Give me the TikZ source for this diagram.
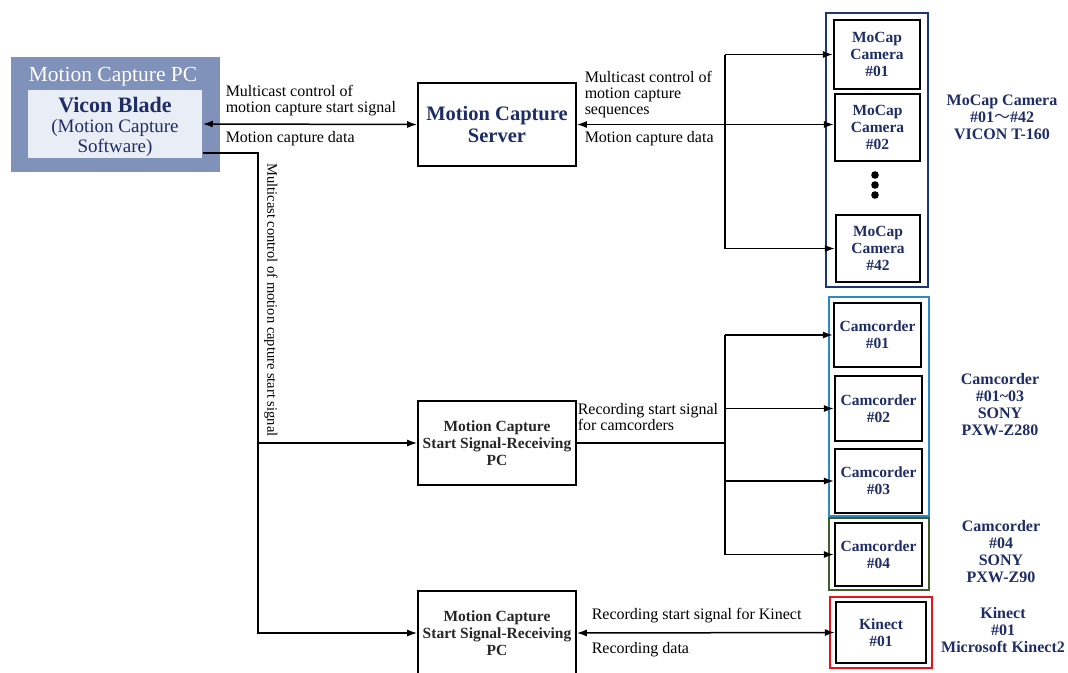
\documentclass[tikz,border=0pt]{standalone}
\usepackage{fontspec}
\setmainfont{Liberation Serif}
\newfontfamily\tnr{Liberation Serif}
\newfontfamily\cjk{Noto Sans CJK SC}
\usetikzlibrary{arrows.meta}
\definecolor{pcblue}{HTML}{8091BA}
\definecolor{innerfill}{HTML}{E9EDF5}
\definecolor{navytext}{HTML}{1F2D66}
\definecolor{grpnavy}{HTML}{1C3575}
\definecolor{grpblue}{HTML}{2B88CC}
\definecolor{grpgreen}{HTML}{3F5E2A}
\definecolor{grpred}{HTML}{E8141C}
\newcommand{\fsz}[2]{\fontsize{#1}{#2}\selectfont}
\begin{document}
\begin{tikzpicture}[x=1pt,y=-1pt,
  line width=1.5pt, >={Latex[length=10pt,width=7pt]},
  box/.style={draw=black, line width=1.6pt, align=center, inner sep=0pt, text=navytext},
  devbox/.style={box, line width=2.2pt, font=\tnr\bfseries\fsz{15.5}{17}},
  pcbox/.style={box, minimum width=158pt, minimum height=84pt, text=black!85, font=\tnr\bfseries\fsz{15.5}{17}},
  lbl/.style={inner sep=1pt, align=left, font=\tnr\fsz{16}{16}},
  side/.style={inner sep=1pt, align=center, text=navytext, font=\tnr\bfseries\fsz{16}{17}},
  grp/.style={line width=2pt}
]
\useasboundingbox (0,0) rectangle (1068,672);

% Motion capture PC
\node[fill=pcblue, minimum width=209pt, minimum height=115pt, inner sep=0pt] (pc) at (115.5,114.5) {};
\node[text=white, inner sep=0pt, font=\tnr\fsz{21.5}{22}] (pctitle) at (113,77) {Motion Capture PC};
\node[fill=innerfill, minimum width=174pt, minimum height=68pt, inner sep=0pt] (vicon) at (115,124) {};
\node[align=center, inner sep=0pt, text=navytext, font=\tnr\fsz{19}{20}] (vicontext) at (115,127)
  {\textbf{\fsz{22}{20}Vicon Blade}\\(Motion Capture\\Software)};

% Server
\node[box, minimum width=158pt, minimum height=83pt, font=\tnr\bfseries\fsz{20.5}{22}] (server) at (497,124.5) {Motion Capture\\Server};

% group boxes
\draw[grp, draw=grpnavy] (826,13) rectangle (928,287);
\draw[grp, draw=grpblue] (829,297) rectangle (929,516);
\draw[grp, draw=grpgreen] (829,518) rectangle (929,590);
\draw[grp, draw=grpred] (830,597) rectangle (932,668);

% cameras
\node[devbox, minimum width=86pt, minimum height=69pt] (cam1) at (877,54.5) {MoCap\\Camera\\\#01};
\node[devbox, minimum width=85pt, minimum height=67pt] (cam2) at (877.5,127.5) {MoCap\\Camera\\\#02};
\node[devbox, minimum width=84pt, minimum height=67pt] (cam42) at (878,248.5) {MoCap\\Camera\\\#42};
\foreach \yy [count=\i] in {175,185,195} \fill (875,\yy) circle (3.8pt) coordinate (dot\i);

% camcorders
\node[devbox, minimum width=87pt, minimum height=64pt] (cc1) at (877.5,335) {Camcorder\\\#01};
\node[devbox, minimum width=87pt, minimum height=65pt] (cc2) at (878.5,408.5) {Camcorder\\\#02};
\node[devbox, minimum width=87pt, minimum height=64pt] (cc3) at (878.5,481) {Camcorder\\\#03};
\node[devbox, minimum width=87pt, minimum height=63pt] (cc4) at (878.5,554.5) {Camcorder\\\#04};

% kinect
\node[devbox, minimum width=90pt, minimum height=61pt] (kin) at (881,632.5) {Kinect\\\#01};

% start signal PCs
\node[pcbox] (ss1) at (497,443) {Motion Capture\\Start Signal-Receiving\\PC};
\node[pcbox] (ss2) at (497,633) {Motion Capture\\Start Signal-Receiving\\PC};

% connectors top
\draw[<->] (vicon.east) -- (server.west);
\draw[<->] (server.east) -- (server.east -| cam2.west);
\coordinate (busA) at (725,0);
\draw (cam1.west -| busA) -- (cam42.west -| busA);
\draw[->] (cam1.west -| busA) -- (cam1.west);
\draw[->] (cam42.west -| busA) -- (cam42.west);

% left feed
\coordinate (busL) at (258,0);
\draw[->] ([yshift=6pt]vicon.south east) -| (busL |- ss2.west) -- (ss2.west);
\draw[->] (busL |- ss1.west) -- (ss1.west);

% camcorder bus
\coordinate (busB) at (725,0);
\draw (ss1.east) -- (ss1.east -| busB);
\draw (cc1.west -| busB) -- (cc4.west -| busB);
\foreach \n in {cc1,cc2,cc3,cc4} \draw[->] (\n.west -| busB) -- (\n.west);

% kinect
\draw[<->] (ss2.east) -- (kin.west);

% labels
\node[lbl, anchor=west] (l1) at (224,101) {Multicast control of\\motion capture start signal};
\node[lbl, anchor=west] (l2) at (224,139) {Motion capture data};
\node[lbl, anchor=west] (l3) at (583,95) {Multicast control of\\motion capture\\sequences};
\node[lbl, anchor=west] (l4) at (583,139) {Motion capture data};
\node[lbl, rotate=-90, font=\tnr\fsz{14.5}{16}] (l5) at (271,300) {Multicast control of motion capture start signal};
\node[lbl, anchor=west] (l6) at (576,417) {Recording start signal\\for camcorders};
\node[lbl, anchor=west] (l7) at (590,616) {Recording start signal for Kinect};
\node[lbl, anchor=west] (l8) at (590,650) {Recording data};

% side labels
\node[side] (s1) at (1002,117) {MoCap Camera\\\#01{\cjk\mdseries ～}\#42\\VICON T-160};
\node[side] (s2) at (1000,405) {Camcorder\\\#01\textasciitilde03\\SONY\\PXW-Z280};
\node[side] (s3) at (1001,552) {Camcorder\\\#04\\SONY\\PXW-Z90};
\node[side] (s4) at (1003,630) {Kinect\\\#01\\Microsoft Kinect2};
\end{tikzpicture}
\end{document}
